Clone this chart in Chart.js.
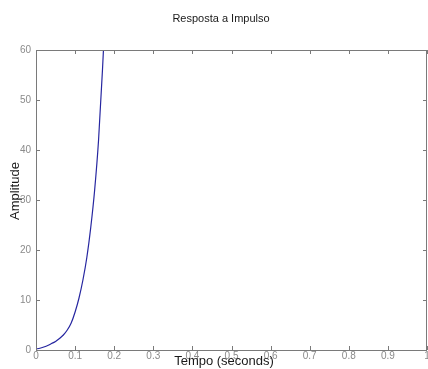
<!DOCTYPE html>
<html>
<head>
<meta charset="utf-8">
<script src="https://cdn.jsdelivr.net/npm/chart.js@4.4.1/dist/chart.umd.min.js"></script>
<style>
  html, body { margin: 0; padding: 0; background: #ffffff; }
  #wrap { position: absolute; left: 0; top: 0; width: 428px; height: 369px; }
</style>
</head>
<body>
<div id="wrap"><canvas id="c"></canvas></div>
<script>
// Impulse response samples: time (s) and amplitude
const tempo     = [0, 0.01, 0.02, 0.03, 0.04, 0.05, 0.06, 0.07, 0.08, 0.09, 0.10, 0.11, 0.12, 0.13, 0.14, 0.15, 0.16, 0.17, 0.175];
const amplitude = [0.2, 0.35, 0.6, 0.9, 1.3, 1.7, 2.3, 3.0, 4.0, 5.4, 7.6, 10.4, 14.0, 18.5, 24.5, 32.0, 42.0, 56.0, 64.0];

const xTicks = ['0', '0.1', '0.2', '0.3', '0.4', '0.5', '0.6', '0.7', '0.8', '0.9', '1'];
const yTicks = ['0', '10', '20', '30', '40', '50', '60'];

const titleText = 'Resposta a Impulso';
const xLabel = 'Tempo (seconds)';
const yLabel = 'Amplitude';

const points = tempo.map((t, i) => ({ x: t, y: amplitude[i] }));

const axisGray = '#7a7a7a';
const tickGray = '#8a8a8a';

// Box around the axes, inward tick marks, title and axis labels
const framePlugin = {
  id: 'frame',
  afterDraw(chart) {
    const { ctx, chartArea: a, scales } = chart;
    const xs = scales.x, ys = scales.y;
    ctx.save();
    ctx.strokeStyle = axisGray;
    ctx.lineWidth = 1;
    ctx.strokeRect(Math.round(a.left) + 0.5, Math.round(a.top) + 0.5,
                   Math.round(a.right - a.left) - 1, Math.round(a.bottom - a.top));
    const len = 4;
    ctx.beginPath();
    xs.ticks.forEach(t => {
      const px = Math.round(xs.getPixelForValue(t.value)) + 0.5;
      ctx.moveTo(px, a.bottom); ctx.lineTo(px, a.bottom - len);
      ctx.moveTo(px, a.top); ctx.lineTo(px, a.top + len);
    });
    ys.ticks.forEach(t => {
      const py = Math.round(ys.getPixelForValue(t.value)) + 0.5;
      ctx.moveTo(a.left, py); ctx.lineTo(a.left + len, py);
      ctx.moveTo(a.right, py); ctx.lineTo(a.right - len, py);
    });
    ctx.stroke();

    ctx.fillStyle = '#1a1a1a';
    ctx.textAlign = 'center';
    ctx.textBaseline = 'middle';
    ctx.font = '11px "Liberation Sans", Arial, sans-serif';
    ctx.fillText(titleText, 221, 19);
    ctx.font = '13px "Liberation Sans", Arial, sans-serif';
    ctx.fillText(xLabel, 224, 361);
    ctx.translate(15, 191);
    ctx.rotate(-Math.PI / 2);
    ctx.fillText(yLabel, 0, 0);
    ctx.restore();
  }
};

new Chart(document.getElementById('c'), {
  type: 'scatter',
  data: {
    datasets: [{
      data: points,
      showLine: true,
      borderColor: '#2626a0',
      borderWidth: 1.2,
      pointRadius: 0,
      fill: false,
      cubicInterpolationMode: 'monotone',
      clip: 0
    }]
  },
  options: {
    responsive: true,
    maintainAspectRatio: false,
    animation: false,
    events: [],
    layout: { padding: { top: 50, right: 1, left: 0, bottom: 0 } },
    plugins: { legend: { display: false }, title: { display: false }, tooltip: { enabled: false } },
    scales: {
      x: {
        type: 'linear',
        min: 0, max: 1,
        grid: { display: false, drawTicks: false },
        border: { display: false },
        ticks: {
          stepSize: 0.1,
          autoSkip: false,
          maxRotation: 0,
          padding: 0,
          color: tickGray,
          font: { size: 10, family: '"Liberation Sans", Arial, sans-serif' },
          callback: (v, i) => xTicks[i]
        },
        afterFit(s) { s.height = 19; s.paddingLeft = 0; s.paddingRight = 0; }
      },
      y: {
        type: 'linear',
        min: 0, max: 60,
        grid: { display: false, drawTicks: false },
        border: { display: false },
        ticks: {
          stepSize: 10,
          padding: 5,
          color: tickGray,
          font: { size: 10, family: '"Liberation Sans", Arial, sans-serif' },
          callback: (v, i) => yTicks[i]
        },
        afterFit(s) { s.width = 36; s.paddingTop = 0; s.paddingBottom = 0; }
      }
    }
  },
  plugins: [framePlugin]
});
</script>
</body>
</html>
